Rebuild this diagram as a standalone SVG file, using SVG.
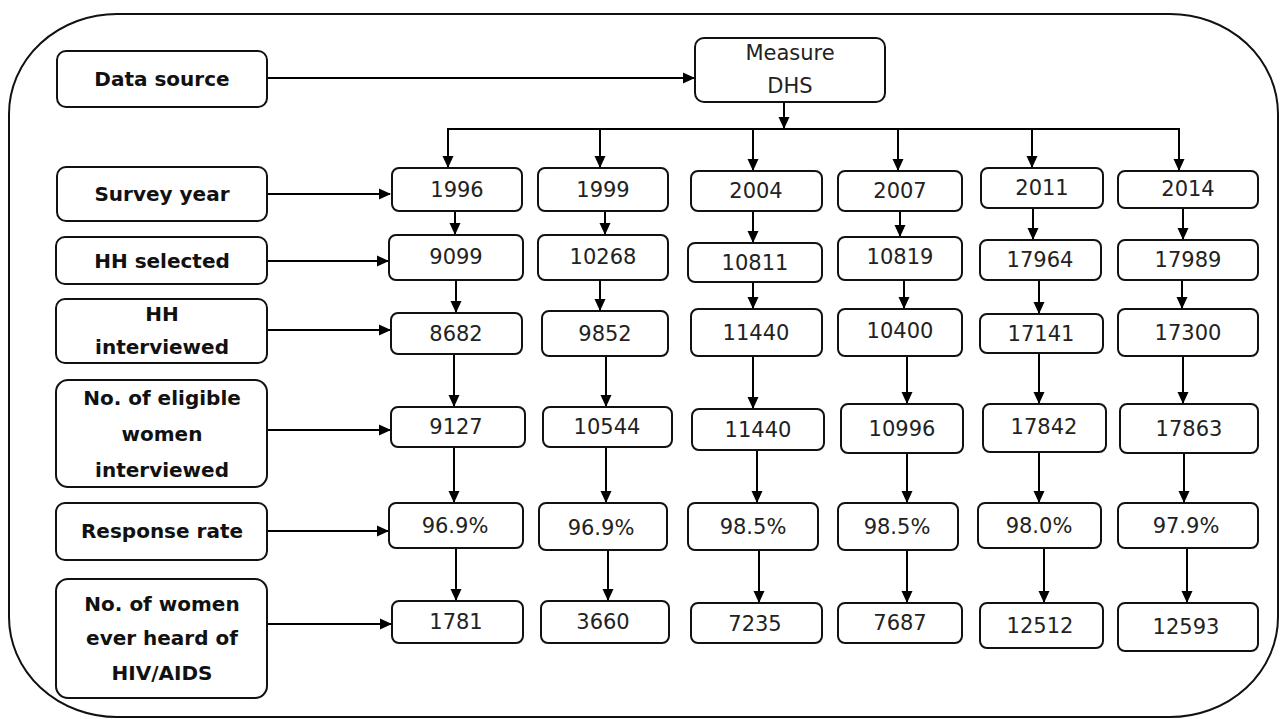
<svg xmlns="http://www.w3.org/2000/svg" width="1285" height="719" viewBox="0 0 1285 719">
<defs>
<marker id="ah" markerWidth="12" markerHeight="12" refX="11" refY="6" orient="auto" markerUnits="userSpaceOnUse">
<path d="M0,0.5 L12,6 L0,11.5 Z" fill="#000"/>
</marker>
<style>
.frame{fill:#fff;stroke:#111;stroke-width:2}
.box{fill:#fff;stroke:#111;stroke-width:2}
.lab{font-family:"DejaVu Sans",sans-serif;font-weight:bold;font-size:20px;fill:#111;text-anchor:middle;dominant-baseline:central}
.num{font-family:"DejaVu Sans",sans-serif;font-size:21px;fill:#222;text-anchor:middle;dominant-baseline:central}
.c{fill:none;stroke:#000;stroke-width:2}
.a{fill:none;stroke:#000;stroke-width:2;marker-end:url(#ah)}
</style>
</defs>
<rect x="0" y="0" width="1285" height="719" fill="#fff"/>
<rect class="frame" x="9" y="14" width="1269" height="703" rx="108" ry="100"/>

<g id="connectors">
<path class="a" d="M267,78 H694"/>
<path class="a" d="M267,194 H390"/>
<path class="a" d="M267,261 H388"/>
<path class="a" d="M267,330 H390"/>
<path class="a" d="M267,430 H390"/>
<path class="a" d="M267,531 H388"/>
<path class="a" d="M267,624 H391"/>
<path class="a" d="M784,102 V128"/>
<path class="c" d="M448,167 V129 H1179 V167"/>
<path class="a" d="M448,129 V167"/>
<path class="a" d="M600,129 V167"/>
<path class="a" d="M753,129 V170"/>
<path class="a" d="M898,129 V170"/>
<path class="a" d="M1032,129 V167"/>
<path class="a" d="M1179,129 V170"/>
<!-- col1 -->
<path class="a" d="M455,211 V234"/>
<path class="a" d="M456,280 V312"/>
<path class="a" d="M454,354 V406"/>
<path class="a" d="M454,447 V502"/>
<path class="a" d="M456,548 V600"/>
<!-- col2 -->
<path class="a" d="M605,211 V234"/>
<path class="a" d="M600,280 V310"/>
<path class="a" d="M606,356 V406"/>
<path class="a" d="M606,447 V502"/>
<path class="a" d="M608,550 V600"/>
<!-- col3 -->
<path class="a" d="M753,211 V242"/>
<path class="a" d="M753,282 V308"/>
<path class="a" d="M753,356 V408"/>
<path class="a" d="M757,450 V502"/>
<path class="a" d="M759,550 V602"/>
<!-- col4 -->
<path class="a" d="M900,211 V236"/>
<path class="a" d="M904,280 V308"/>
<path class="a" d="M907,356 V403"/>
<path class="a" d="M907,453 V502"/>
<path class="a" d="M907,550 V602"/>
<!-- col5 -->
<path class="a" d="M1033,208 V239"/>
<path class="a" d="M1039,280 V313"/>
<path class="a" d="M1039,353 V403"/>
<path class="a" d="M1039,452 V502"/>
<path class="a" d="M1044,548 V602"/>
<!-- col6 -->
<path class="a" d="M1183,208 V239"/>
<path class="a" d="M1182,280 V308"/>
<path class="a" d="M1183,356 V403"/>
<path class="a" d="M1184,453 V502"/>
<path class="a" d="M1187,548 V602"/>
</g>

<g id="lbl-datasource"><rect class="box" x="57" y="51" width="210" height="56" rx="9"/><text class="lab" x="162" y="79">Data source</text></g>
<g id="lbl-surveyyear"><rect class="box" x="57" y="167" width="210" height="54" rx="9"/><text class="lab" x="162" y="194">Survey year</text></g>
<g id="lbl-hhselected"><rect class="box" x="56" y="237" width="211" height="47" rx="9"/><text class="lab" x="162" y="261">HH selected</text></g>
<g id="lbl-hhinterviewed"><rect class="box" x="56" y="299" width="211" height="64" rx="9"/><text class="lab" x="162" y="314">HH</text><text class="lab" x="162" y="347">interviewed</text></g>
<g id="lbl-eligible"><rect class="box" x="56" y="380" width="211" height="107" rx="12"/><text class="lab" x="162" y="398">No. of eligible</text><text class="lab" x="162" y="434">women</text><text class="lab" x="162" y="470">interviewed</text></g>
<g id="lbl-response"><rect class="box" x="56" y="503" width="211" height="57" rx="9"/><text class="lab" x="162" y="531">Response rate</text></g>
<g id="lbl-hiv"><rect class="box" x="56" y="579" width="211" height="119" rx="12"/><text class="lab" x="162" y="604">No. of women</text><text class="lab" x="162" y="638">ever heard of</text><text class="lab" x="162" y="673">HIV/AIDS</text></g>

<g id="measure-dhs"><rect class="box" x="695" y="38" width="190" height="64" rx="9"/><text class="num" x="790" y="53">Measure</text><text class="num" x="790" y="86">DHS</text></g>

<g id="y1996"><rect class="box" x="392" y="168" width="130" height="43" rx="7"/><text class="num" x="457" y="190">1996</text></g>
<g id="y1999"><rect class="box" x="538" y="168" width="130" height="43" rx="7"/><text class="num" x="603" y="190">1999</text></g>
<g id="y2004"><rect class="box" x="691" y="171" width="131" height="40" rx="7"/><text class="num" x="756" y="191">2004</text></g>
<g id="y2007"><rect class="box" x="838" y="171" width="124" height="40" rx="7"/><text class="num" x="900" y="191">2007</text></g>
<g id="y2011"><rect class="box" x="981" y="168" width="122" height="40" rx="7"/><text class="num" x="1042" y="188">2011</text></g>
<g id="y2014"><rect class="box" x="1118" y="171" width="140" height="37" rx="7"/><text class="num" x="1188" y="189">2014</text></g>

<g id="sel1996"><rect class="box" x="389" y="235" width="134" height="45" rx="7"/><text class="num" x="456" y="257">9099</text></g>
<g id="sel1999"><rect class="box" x="538" y="235" width="130" height="45" rx="7"/><text class="num" x="603" y="257">10268</text></g>
<g id="sel2004"><rect class="box" x="688" y="243" width="134" height="39" rx="7"/><text class="num" x="755" y="263">10811</text></g>
<g id="sel2007"><rect class="box" x="838" y="237" width="124" height="43" rx="7"/><text class="num" x="900" y="257">10819</text></g>
<g id="sel2011"><rect class="box" x="980" y="240" width="121" height="40" rx="7"/><text class="num" x="1040" y="260">17964</text></g>
<g id="sel2014"><rect class="box" x="1118" y="240" width="140" height="40" rx="7"/><text class="num" x="1188" y="260">17989</text></g>

<g id="int1996"><rect class="box" x="391" y="313" width="131" height="41" rx="7"/><text class="num" x="456" y="334">8682</text></g>
<g id="int1999"><rect class="box" x="542" y="311" width="126" height="45" rx="7"/><text class="num" x="605" y="334">9852</text></g>
<g id="int2004"><rect class="box" x="691" y="309" width="131" height="47" rx="7"/><text class="num" x="756" y="333">11440</text></g>
<g id="int2007"><rect class="box" x="838" y="309" width="124" height="47" rx="7"/><text class="num" x="900" y="331">10400</text></g>
<g id="int2011"><rect class="box" x="980" y="314" width="123" height="39" rx="7"/><text class="num" x="1041" y="334">17141</text></g>
<g id="int2014"><rect class="box" x="1118" y="309" width="140" height="47" rx="7"/><text class="num" x="1188" y="333">17300</text></g>

<g id="eli1996"><rect class="box" x="391" y="407" width="134" height="40" rx="7"/><text class="num" x="456" y="427">9127</text></g>
<g id="eli1999"><rect class="box" x="543" y="407" width="129" height="40" rx="7"/><text class="num" x="607" y="427">10544</text></g>
<g id="eli2004"><rect class="box" x="692" y="409" width="132" height="41" rx="7"/><text class="num" x="758" y="430">11440</text></g>
<g id="eli2007"><rect class="box" x="841" y="404" width="122" height="49" rx="7"/><text class="num" x="902" y="429">10996</text></g>
<g id="eli2011"><rect class="box" x="983" y="404" width="123" height="48" rx="7"/><text class="num" x="1044" y="427">17842</text></g>
<g id="eli2014"><rect class="box" x="1120" y="404" width="138" height="49" rx="7"/><text class="num" x="1189" y="429">17863</text></g>

<g id="rr1996"><rect class="box" x="389" y="503" width="134" height="45" rx="7"/><text class="num" x="455" y="526">96.9%</text></g>
<g id="rr1999"><rect class="box" x="539" y="503" width="128" height="47" rx="7"/><text class="num" x="601" y="528">96.9%</text></g>
<g id="rr2004"><rect class="box" x="688" y="503" width="130" height="47" rx="7"/><text class="num" x="753" y="527">98.5%</text></g>
<g id="rr2007"><rect class="box" x="838" y="503" width="120" height="47" rx="7"/><text class="num" x="897" y="527">98.5%</text></g>
<g id="rr2011"><rect class="box" x="978" y="503" width="123" height="45" rx="7"/><text class="num" x="1039" y="526">98.0%</text></g>
<g id="rr2014"><rect class="box" x="1118" y="503" width="140" height="45" rx="7"/><text class="num" x="1186" y="526">97.9%</text></g>

<g id="hiv1996"><rect class="box" x="392" y="601" width="131" height="42" rx="7"/><text class="num" x="456" y="622">1781</text></g>
<g id="hiv1999"><rect class="box" x="541" y="601" width="128" height="42" rx="7"/><text class="num" x="603" y="622">3660</text></g>
<g id="hiv2004"><rect class="box" x="691" y="603" width="131" height="40" rx="7"/><text class="num" x="755" y="624">7235</text></g>
<g id="hiv2007"><rect class="box" x="838" y="603" width="124" height="40" rx="7"/><text class="num" x="900" y="623">7687</text></g>
<g id="hiv2011"><rect class="box" x="980" y="603" width="123" height="45" rx="7"/><text class="num" x="1040" y="626">12512</text></g>
<g id="hiv2014"><rect class="box" x="1118" y="603" width="140" height="48" rx="7"/><text class="num" x="1186" y="627">12593</text></g>
</svg>
